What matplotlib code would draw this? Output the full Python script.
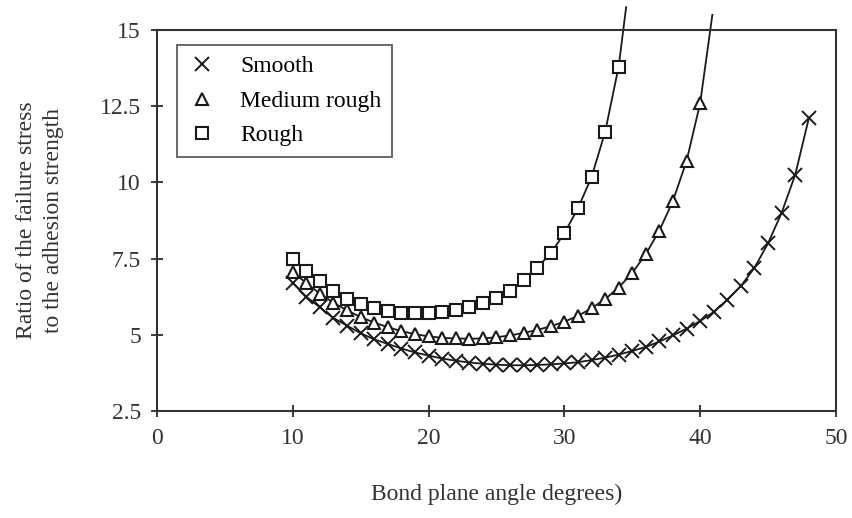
import matplotlib
matplotlib.use("Agg")
import matplotlib.pyplot as plt

plt.rcParams['font.family'] = ['Liberation Serif', 'DejaVu Serif']

# angle data (degrees)
smooth_x = list(range(10, 49))
smooth_y = [6.7, 6.25, 5.9, 5.55, 5.3, 5.05, 4.85, 4.7, 4.55, 4.42,
            4.32, 4.22, 4.15, 4.09, 4.05, 4.02, 4.0, 4.0, 4.01, 4.03,
            4.06, 4.1, 4.17, 4.25, 4.35, 4.47, 4.6, 4.78, 4.98, 5.2,
            5.45, 5.75, 6.15, 6.6, 7.2, 8.0, 9.0, 10.25, 12.1]

medium_x = list(range(10, 41))
medium_y = [7.05, 6.7, 6.35, 6.05, 5.8, 5.58, 5.4, 5.25, 5.12, 5.02,
            4.95, 4.9, 4.88, 4.87, 4.88, 4.92, 4.98, 5.06, 5.16, 5.28,
            5.43, 5.62, 5.87, 6.17, 6.55, 7.03, 7.65, 8.42, 9.4, 10.7,
            12.6]

rough_x = list(range(10, 35))
rough_y = [7.5, 7.1, 6.75, 6.45, 6.18, 6.0, 5.88, 5.78, 5.72, 5.7,
           5.7, 5.74, 5.8, 5.9, 6.03, 6.22, 6.45, 6.8, 7.2, 7.68,
           8.33, 9.15, 10.17, 11.65, 13.8]

# fitted curves run past the last point, above the frame
medium_end_x, medium_end_y = 40.9, 15.5
rough_end_x, rough_end_y = 34.55, 15.75

fig = plt.figure(figsize=(8.53, 5.18), dpi=100)
ax = fig.add_axes([0.184, 0.2066, 0.796, 0.7354])

col = '#1a1a1a'
txt = '#333333'
fs = 17

# curves
ax.plot(smooth_x, smooth_y, color=col, lw=1.3, clip_on=False)
ax.plot(medium_x + [medium_end_x], medium_y + [medium_end_y], color=col, lw=1.3, clip_on=False)
ax.plot(rough_x + [rough_end_x], rough_y + [rough_end_y], color=col, lw=1.3, clip_on=False)

# markers
ax.plot(smooth_x, smooth_y, ls='none', marker='x', ms=10, mew=1.4, color=col, label='Smooth')
ax.plot(medium_x, medium_y, ls='none', marker='^', ms=9, mew=1.5, mfc='white', mec=col, label='Medium rough')
ax.plot(rough_x, rough_y, ls='none', marker='s', ms=9, mew=1.5, mfc='white', mec=col, label='Rough')

ax.set_xlim(0, 50)
ax.set_ylim(2.5, 15)
ax.set_xticks([0, 10, 20, 30, 40, 50])
ax.set_yticks([2.5, 5, 7.5, 10, 12.5, 15])
ax.set_yticklabels(['2.5', '5', '7.5', '10', '12.5', '15'])
ax.tick_params(direction='inout', length=9, width=1.2, colors=col, labelsize=fs, labelcolor=txt)
ax.tick_params(axis='x', pad=8)
ax.tick_params(axis='y', pad=7)
for s in ax.spines.values():
    s.set_linewidth(1.5)
    s.set_color(txt)

ax.set_xlabel('Bond plane angle degrees)', fontsize=fs, color=txt, labelpad=25)
ax.set_ylabel('Ratio of the failure stress\nto the adhesion strength', fontsize=fs,
              color=txt, labelpad=26, linespacing=1.35)

leg = ax.legend(loc='upper left', bbox_to_anchor=(0.03, 0.96), fontsize=fs, frameon=True,
                fancybox=False, edgecolor=txt, handlelength=1.2, handletextpad=1.0,
                borderpad=0.45, labelspacing=0.55, borderaxespad=0)
leg.get_frame().set_linewidth(1.3)

fig.savefig('out.png', dpi=100)
